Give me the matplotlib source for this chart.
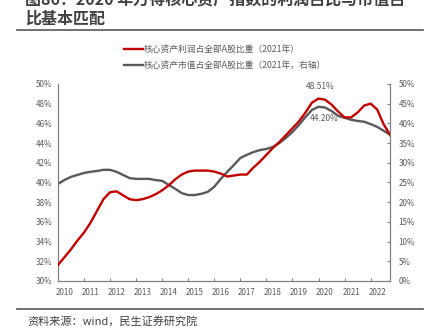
import numpy as np
import pandas as pd
import matplotlib
matplotlib.use("Agg")
import matplotlib.pyplot as plt

plt.rcParams['font.family'] = ['Noto Sans CJK SC', 'DejaVu Sans']

# 季度数据（2010Q1 - 2022Q4）
dates = pd.date_range("2010-01-01", periods=52, freq="QS")
profit_share = [31.6, 32.4, 33.2, 34.1, 34.9, 35.9, 37.1, 38.3, 39.0, 39.1,
                38.7, 38.3, 38.2, 38.3, 38.5, 38.8, 39.2, 39.7, 40.3, 40.8,
                41.1, 41.2, 41.2, 41.2, 41.1, 40.9, 40.6, 40.7, 40.8, 40.8,
                41.5, 42.1, 42.8, 43.5, 44.1, 44.8, 45.5, 46.2, 47.1, 48.1,
                48.51, 48.4, 47.9, 47.2, 46.6, 46.6, 47.1, 47.8, 48.0, 47.4,
                45.9, 44.8]
mktcap_share = [24.6, 25.6, 26.4, 26.9, 27.4, 27.7, 27.9, 28.2, 28.2, 27.7,
                26.9, 26.1, 25.9, 25.9, 25.9, 25.6, 25.4, 24.4, 23.4, 22.3,
                21.8, 21.8, 22.1, 22.6, 23.9, 25.9, 27.7, 29.4, 31.2, 32.0,
                32.7, 33.2, 33.5, 34.0, 35.0, 36.3, 37.8, 39.6, 41.6, 43.4,
                44.20, 44.0, 43.1, 41.9, 41.4, 40.9, 40.6, 40.4, 39.8, 39.1,
                38.1, 37.1]
years = list(range(2010, 2023))
label_profit = "核心资产利润占全部A股比重（2021年）"
label_mktcap = "核心资产市值占全部A股比重（2021年，右轴）"

red = "#C00000"
gray = "#595959"
txt = "#595959"
spine_c = "#7f7f7f"

x = dates.year + (dates.month - 1) / 12.0

fig = plt.figure(figsize=(4.35, 3.29), dpi=100)
ax = fig.add_axes([0.133, 0.146, 0.764, 0.599])
ax2 = ax.twinx()

l1, = ax.plot(x, profit_share, color=red, lw=1.7, label=label_profit, zorder=3,
              solid_joinstyle='round')
l2, = ax2.plot(x, mktcap_share, color=gray, lw=1.7, label=label_mktcap,
               solid_joinstyle='round')
ax.set_zorder(ax2.get_zorder() + 1)
ax.patch.set_visible(False)

ax.set_xlim(2010, 2022.75)
ax.set_ylim(30, 50)
ax2.set_ylim(0, 50)
ax.set_yticks(np.arange(30, 51, 2))
ax.set_yticklabels([f"{v}%" for v in range(30, 51, 2)])
ax2.set_yticks(np.arange(0, 51, 5))
ax2.set_yticklabels([f"{v}%" for v in range(0, 51, 5)])

# 年份刻度线在年初，标签稍微右移
ax.set_xticks(years)
ax.set_xticklabels([])
ax.set_xticks([y + 0.25 for y in years], minor=True)
ax.set_xticklabels([str(y) for y in years], minor=True)
ax.tick_params(axis='x', which='major', direction='in', length=2.5, color=spine_c)
ax.tick_params(axis='x', which='minor', length=0, pad=5, labelsize=5.8, labelcolor=txt)
ax.tick_params(axis='y', length=0, pad=4, labelsize=5.8, labelcolor=txt)
ax2.tick_params(axis='y', direction='in', length=2.5, color=spine_c, pad=6,
                labelsize=5.8, labelcolor=txt)

for a in (ax, ax2):
    a.spines['top'].set_visible(False)
    for s in ('left', 'right', 'bottom'):
        a.spines[s].set_color(spine_c)
        a.spines[s].set_linewidth(0.8)

# 峰值标注
i1 = int(np.argmax(profit_share))
ax.annotate(f"{profit_share[i1]:.2f}%", (x[i1], profit_share[i1]),
            xytext=(1, 7), textcoords='offset points', ha='center',
            fontsize=6, color=txt)
i2 = int(np.argmax(mktcap_share))
ax2.annotate(f"{mktcap_share[i2]:.2f}%", (x[i2], mktcap_share[i2]),
             xytext=(4, -10), textcoords='offset points', ha='center',
             fontsize=6, color=txt)

fig.legend(handles=[l1, l2], loc='upper left', bbox_to_anchor=(0.277, 0.875),
           frameon=False, fontsize=6.3, labelcolor=txt, handlelength=2.2,
           handletextpad=0.1, labelspacing=0.85, borderaxespad=0)

# 标题（第一行上半部分超出画布）、分隔线、来源
fig.text(0.057, 1.003, "图86：2020 年万得核心资产指数的利润占比与市值占",
         fontsize=11.5, fontweight='bold', color="#404040", va='center')
fig.text(0.057, 0.942, "比基本匹配",
         fontsize=11.5, fontweight='bold', color="#404040", va='center')
fig.add_artist(plt.Line2D([0.04, 0.972], [0.909, 0.909], color="#595959", lw=1.2))
fig.add_artist(plt.Line2D([0.04, 0.972], [0.06, 0.06], color="#595959", lw=1.2))
fig.text(0.064, 0.024, "资料来源：wind，民生证券研究院", fontsize=8, color="#404040",
         va='center')

fig.savefig("out.png", dpi=100)
